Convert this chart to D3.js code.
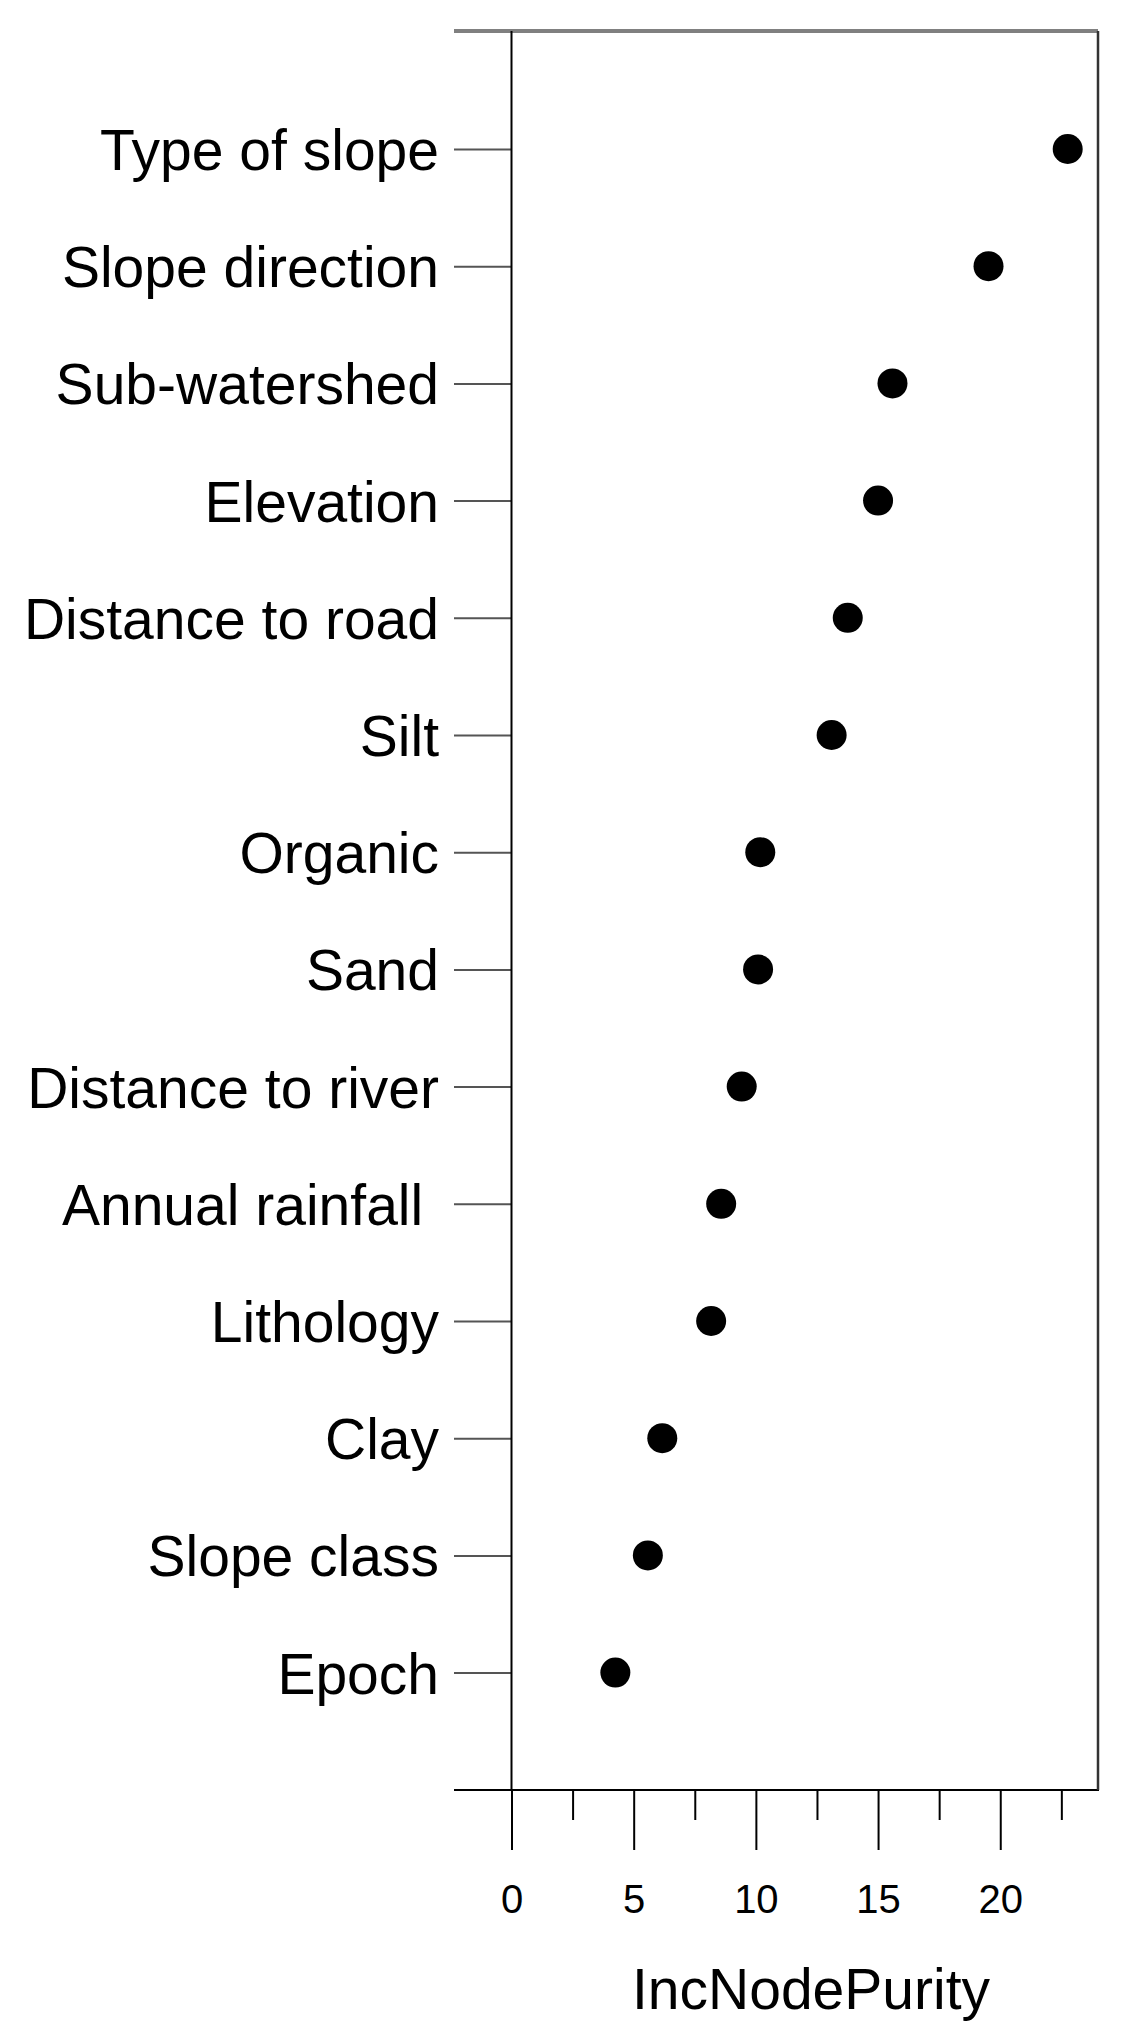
<!DOCTYPE html>
<meta charset="utf-8">
<style>
  body { margin: 0; background: white; }
  text { font-family: "Liberation Sans", Arial, sans-serif; fill: black; }
</style>

<!-- Load d3.js -->
<script src="https://d3js.org/d3.v7.min.js"></script>

<div id="dot_chart"></div>

<script>

    // data (top to bottom)
    const variables = ["Type of slope", "Slope direction", "Sub-watershed", "Elevation",
                       "Distance to road", "Silt", "Organic", "Sand", "Distance to river",
                       "Annual rainfall ", "Lithology", "Clay", "Slope class", "Epoch"];
    const purity = [22.76, 19.52, 15.59, 15.00, 13.76, 13.10, 10.18, 10.09, 9.42,
                    8.58, 8.17, 6.17, 5.58, 4.25];
    const majorTicks = [0, 5, 10, 15, 20];
    const minorTicks = [2.5, 7.5, 12.5, 17.5, 22.5];
    const xTitle = "IncNodePurity";

    // set the dimensions and margins of the graph
    const margin = {top: 31, right: 27, bottom: 254, left: 511.5},
          width = 1125 - margin.left - margin.right,
          height = 2044 - margin.top - margin.bottom;

    const svg = d3.select("#dot_chart")
      .append("svg")
        .attr("width", 1125)
        .attr("height", 2044)
      .append("g")
        .attr("transform", "translate(" + margin.left + "," + margin.top + ")");

    // scales
    const x = d3.scaleLinear()
      .domain([0, 24])
      .range([0, width]);

    const y = d3.scalePoint()
      .domain(variables)
      .range([118, 1641.6]);

    const stub = 57.5;   // how far the axis lines poke out to the left

    // y axis (category ticks and labels)
    const yAxis = svg.append("g")
      .call(d3.axisLeft(y).tickSize(stub).tickPadding(15));
    yAxis.select(".domain").remove();
    yAxis.selectAll("line").attr("stroke", "#555").attr("stroke-width", 2);
    yAxis.selectAll("text")
      .attr("font-size", 57)
      .attr("dy", "0.36em")
      .style("white-space", "pre");

    // x axis, long ticks with labels
    const xMajor = svg.append("g")
      .attr("transform", "translate(0," + height + ")")
      .call(d3.axisBottom(x).tickValues(majorTicks).tickSize(60).tickPadding(35));
    xMajor.select(".domain").remove();
    xMajor.selectAll("line").attr("stroke", "black").attr("stroke-width", 2);
    xMajor.selectAll("text").attr("font-size", 40);

    // x axis, short minor ticks
    const xMinor = svg.append("g")
      .attr("transform", "translate(0," + height + ")")
      .call(d3.axisBottom(x).tickValues(minorTicks).tickSize(30).tickFormat(""));
    xMinor.select(".domain").remove();
    xMinor.selectAll("line").attr("stroke", "black").attr("stroke-width", 2);

    // frame lines
    svg.append("line")   // top, grey and thick
      .attr("x1", -stub).attr("x2", width)
      .attr("y1", 0).attr("y2", 0)
      .attr("stroke", "#808080")
      .attr("stroke-width", 4);

    svg.append("line")   // bottom
      .attr("x1", -stub).attr("x2", width + 1)
      .attr("y1", height).attr("y2", height)
      .attr("stroke", "black")
      .attr("stroke-width", 2);

    svg.append("line")   // left
      .attr("x1", x(0)).attr("x2", x(0))
      .attr("y1", 0).attr("y2", height)
      .attr("stroke", "black")
      .attr("stroke-width", 2);

    svg.append("line")   // right
      .attr("x1", width).attr("x2", width)
      .attr("y1", 0).attr("y2", height)
      .attr("stroke", "#333")
      .attr("stroke-width", 2.5);

    // dots
    svg.append("g")
      .selectAll("circle")
      .data(variables)
      .join("circle")
        .attr("cx", (d, i) => x(purity[i]))
        .attr("cy", d => y(d))
        .attr("r", 15)
        .attr("fill", "black");

    // x axis title
    svg.append("text")
      .attr("text-anchor", "middle")
      .attr("x", 299.5)
      .attr("y", 1978)
      .attr("font-size", 57)
      .text(xTitle);

</script>
